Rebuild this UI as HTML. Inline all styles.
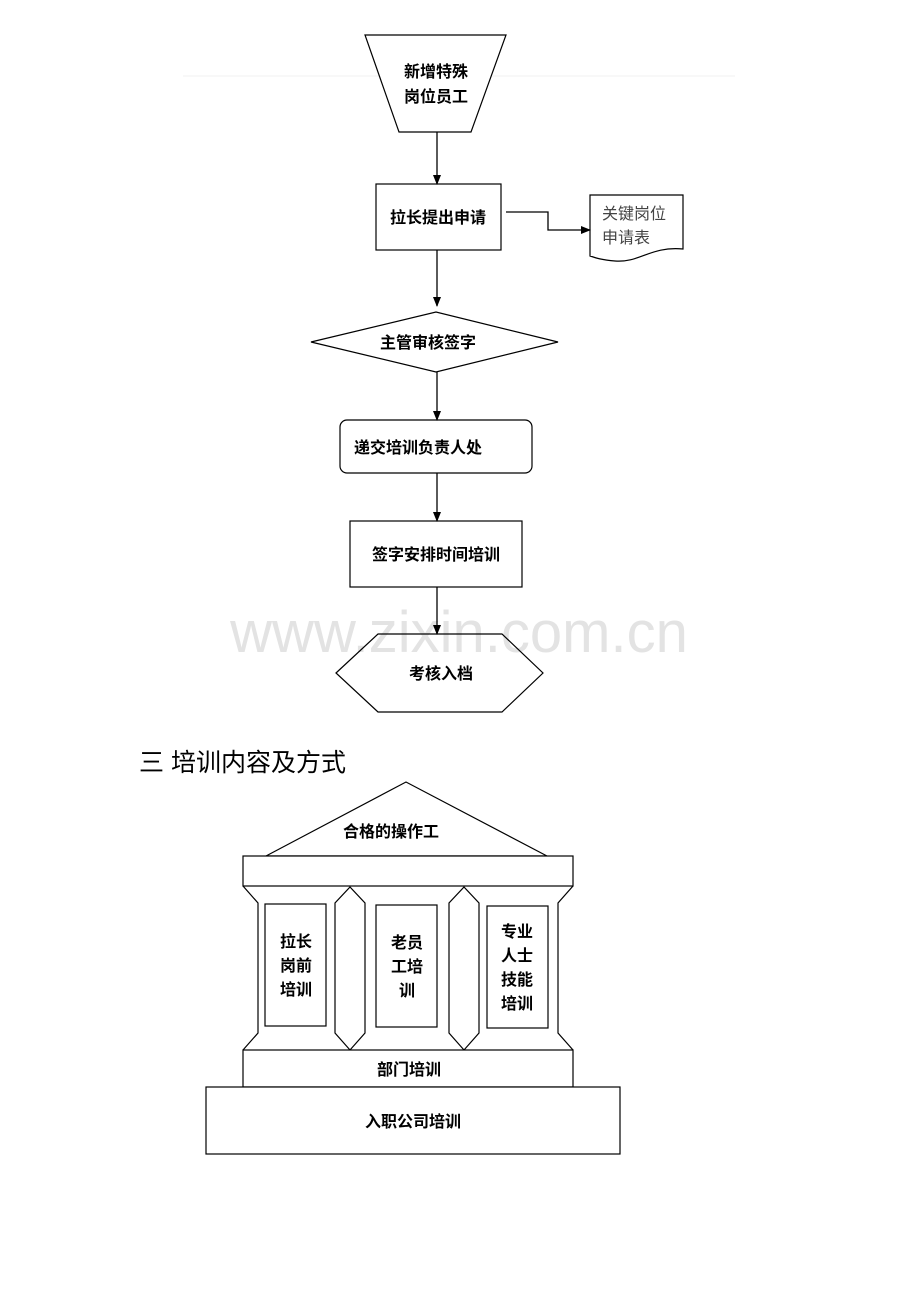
<!DOCTYPE html>
<html><head><meta charset="utf-8"><style>
html,body{margin:0;padding:0;background:#fff;}
svg{display:block;}
text{font-family:"Liberation Sans","WenQuanYi Zen Hei","Noto Sans CJK SC",sans-serif;fill:#000;}
</style></head><body>
<svg width="920" height="1302" viewBox="0 0 920 1302" xmlns="http://www.w3.org/2000/svg">
<defs><marker id="a" markerWidth="10" markerHeight="10" refX="9" refY="5" orient="auto" markerUnits="userSpaceOnUse"><path d="M0,1 L10,5 L0,9 Z" fill="#000"/></marker></defs>
<line x1="183" y1="76" x2="735" y2="76" stroke="#f2f2f2" stroke-width="1"/>
<text x="459" y="652" font-size="58" text-anchor="middle" style="fill:#e3e3e3">www.zixin.com.cn</text>
<g fill="#fff" stroke="#000" stroke-width="1.2">
<polygon points="365,35 506,35 471,132 399,132"/>
<rect x="376" y="184" width="125" height="66"/>
<polygon points="311,342 436,312 558,342 436,372"/>
<rect x="340" y="420" width="192" height="53" rx="7"/>
<rect x="350" y="521" width="172" height="66"/>
<polygon points="336,673 378,634 502,634 543,673 502,712 378,712" fill="none"/>
<path d="M590,195 L683,195 L683,249 C650,246 640,263 615,261 C602,260 596,258 590,256 Z"/>
</g>
<g stroke="#000" stroke-width="1.3" fill="none">
<line x1="437" y1="132" x2="437" y2="184" marker-end="url(#a)"/>
<line x1="437" y1="250" x2="437" y2="306" marker-end="url(#a)"/>
<line x1="437" y1="372" x2="437" y2="420" marker-end="url(#a)"/>
<line x1="437" y1="473" x2="437" y2="521" marker-end="url(#a)"/>
<line x1="437" y1="587" x2="437" y2="634" marker-end="url(#a)"/>
<polyline points="506,212 548,212 548,230 590,230" marker-end="url(#a)"/>
</g>
<g font-size="16" font-weight="bold" text-anchor="middle">
<text x="436" y="77">新增特殊</text>
<text x="436" y="102">岗位员工</text>
<text x="438" y="223">拉长提出申请</text>
<text x="428" y="348">主管审核签字</text>
<text x="418" y="453">递交培训负责人处</text>
<text x="436" y="560">签字安排时间培训</text>
<text x="441" y="679">考核入档</text>
</g>
<g font-size="16">
<text x="602" y="219" style="fill:#444">关键岗位</text>
<text x="602" y="243" style="fill:#444">申请表</text>
</g>
<text x="139" y="771" font-size="25">三  培训内容及方式</text>
<g fill="#fff" stroke="#000" stroke-width="1.2">
<polygon points="266,856 406,782 547,856"/>
<rect x="243" y="856" width="330" height="30"/>
<polyline points="243,886 258,903 258,1033 243,1050"/>
<polyline points="573,886 558,903 558,1033 573,1050"/>
<polygon points="350,887 365,903 365,1033 350,1050 335,1033 335,903"/>
<polygon points="464,887 479,903 479,1033 464,1050 449,1033 449,903"/>
<rect x="265" y="904" width="61" height="122"/>
<rect x="376" y="905" width="61" height="122"/>
<rect x="487" y="906" width="61" height="122"/>
<rect x="243" y="1050" width="330" height="37"/>
<rect x="206" y="1087" width="414" height="67"/>
</g>
<g font-size="16" font-weight="bold" text-anchor="middle">
<text x="391" y="837">合格的操作工</text>
<text x="296" y="947">拉长</text><text x="296" y="971">岗前</text><text x="296" y="995">培训</text>
<text x="407" y="948">老员</text><text x="407" y="972">工培</text><text x="407" y="996">训</text>
<text x="517" y="937">专业</text><text x="517" y="961">人士</text><text x="517" y="985">技能</text><text x="517" y="1009">培训</text>
<text x="409" y="1075">部门培训</text>
<text x="413" y="1127">入职公司培训</text>
</g>
</svg>
</body></html>
